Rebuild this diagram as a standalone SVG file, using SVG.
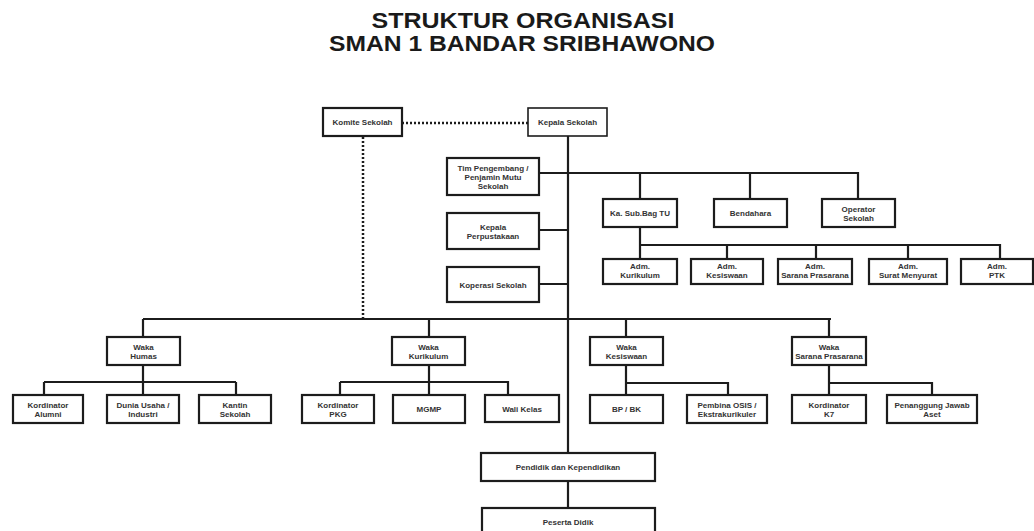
<svg xmlns="http://www.w3.org/2000/svg" width="1034" height="531" viewBox="0 0 1034 531">
<style>
.b{fill:#fff;stroke:#1c1c1c;stroke-width:2.2}
.t{font-family:"Liberation Sans",Arial,sans-serif;font-size:8px;font-weight:bold;fill:#333;text-anchor:middle}
.h{font-family:"Liberation Sans",Arial,sans-serif;font-size:21.5px;font-weight:bold;fill:#1a1a1a;text-anchor:middle}
.c{fill:none;stroke:#1c1c1c;stroke-width:2.2}
.d{fill:none;stroke:#1c1c1c;stroke-width:2.5;stroke-dasharray:2 2}
</style>
<rect width="1034" height="531" fill="#fff"/>
<text class="h" x="523" y="28" textLength="303" lengthAdjust="spacingAndGlyphs">STRUKTUR ORGANISASI</text>
<text class="h" x="522" y="51" textLength="386" lengthAdjust="spacingAndGlyphs">SMAN 1 BANDAR SRIBHAWONO</text>
<g id="connectors">
<path class="d" d="M402 123H528M363 137V318"/>
<path class="c" d="M568 136V453M568 481V508"/>
<path class="c" d="M539 173H858V199M640 173V199M750 173V199"/>
<path class="c" d="M539 230H568M539 284H568"/>
<path class="c" d="M640 227V259M640 245H1000V259M727 245V259M816 245V259M908 245V259"/>
<path class="c" d="M143 319H831M143 319V337M429 319V337M626 319V337M829 319V337"/>
<path class="c" d="M143 365V395M44 382H236M44 382V395M236 382V395"/>
<path class="c" d="M429 365V395M340 382H508V395M340 382V395"/>
<path class="c" d="M626 365V395M626 383H728V395"/>
<path class="c" d="M829 365V395M829 383H932V395"/>
</g>
<g id="komite"><rect class="b" x="323" y="108" width="79" height="28"/><text class="t" x="362.5" y="125">Komite Sekolah</text></g>
<g id="kepala"><rect class="b" x="528" y="108" width="79" height="28" style="stroke-width:1.6"/><text class="t" x="567.5" y="125">Kepala Sekolah</text></g>
<g id="tim"><rect class="b" x="447" y="158" width="92" height="37"/><text class="t" x="493" y="171">Tim Pengembang /</text><text class="t" x="493" y="180">Penjamin Mutu</text><text class="t" x="493" y="189">Sekolah</text></g>
<g id="perpus"><rect class="b" x="447" y="213" width="92" height="36"/><text class="t" x="493" y="229.5">Kepala</text><text class="t" x="493" y="238.5">Perpustakaan</text></g>
<g id="koperasi"><rect class="b" x="447" y="267" width="92" height="35"/><text class="t" x="493" y="287.5">Koperasi Sekolah</text></g>
<g id="tu"><rect class="b" x="603" y="199" width="74" height="28"/><text class="t" x="640" y="216">Ka. Sub.Bag TU</text></g>
<g id="bendahara"><rect class="b" x="714" y="199" width="73" height="28"/><text class="t" x="750.5" y="216">Bendahara</text></g>
<g id="operator"><rect class="b" x="822" y="199" width="73" height="28"/><text class="t" x="858.5" y="211.5">Operator</text><text class="t" x="858.5" y="220.5">Sekolah</text></g>
<g id="adm-kurikulum"><rect class="b" x="603" y="259" width="74" height="25"/><text class="t" x="640" y="269">Adm.</text><text class="t" x="640" y="278">Kurikulum</text></g>
<g id="adm-kesiswaan"><rect class="b" x="691" y="259" width="72" height="25"/><text class="t" x="727" y="269">Adm.</text><text class="t" x="727" y="278">Kesiswaan</text></g>
<g id="adm-sarana"><rect class="b" x="778" y="259" width="74" height="25"/><text class="t" x="815" y="269">Adm.</text><text class="t" x="815" y="278">Sarana Prasarana</text></g>
<g id="adm-surat"><rect class="b" x="869" y="259" width="78" height="25"/><text class="t" x="908" y="269">Adm.</text><text class="t" x="908" y="278">Surat Menyurat</text></g>
<g id="adm-ptk"><rect class="b" x="961" y="259" width="72" height="25"/><text class="t" x="997" y="269">Adm.</text><text class="t" x="997" y="278">PTK</text></g>
<g id="waka-humas"><rect class="b" x="107" y="337" width="73" height="28"/><text class="t" x="143.5" y="349.5">Waka</text><text class="t" x="143.5" y="358.5">Humas</text></g>
<g id="waka-kurikulum"><rect class="b" x="392" y="337" width="73" height="28"/><text class="t" x="428.5" y="349.5">Waka</text><text class="t" x="428.5" y="358.5">Kurikulum</text></g>
<g id="waka-kesiswaan"><rect class="b" x="590" y="337" width="73" height="28"/><text class="t" x="626.5" y="349.5">Waka</text><text class="t" x="626.5" y="358.5">Kesiswaan</text></g>
<g id="waka-sarana"><rect class="b" x="792" y="337" width="74" height="28"/><text class="t" x="829" y="349.5">Waka</text><text class="t" x="829" y="358.5">Sarana Prasarana</text></g>
<g id="alumni"><rect class="b" x="13" y="395" width="70" height="28"/><text class="t" x="48" y="407.5">Kordinator</text><text class="t" x="48" y="416.5">Alumni</text></g>
<g id="dunia-usaha"><rect class="b" x="107" y="395" width="72" height="28"/><text class="t" x="143" y="407.5">Dunia Usaha /</text><text class="t" x="143" y="416.5">Industri</text></g>
<g id="kantin"><rect class="b" x="199" y="395" width="72" height="28"/><text class="t" x="235" y="407.5">Kantin</text><text class="t" x="235" y="416.5">Sekolah</text></g>
<g id="pkg"><rect class="b" x="302" y="395" width="72" height="28"/><text class="t" x="338" y="407.5">Kordinator</text><text class="t" x="338" y="416.5">PKG</text></g>
<g id="mgmp"><rect class="b" x="393" y="395" width="72" height="28"/><text class="t" x="429" y="412">MGMP</text></g>
<g id="wali-kelas"><rect class="b" x="485" y="395" width="74" height="27"/><text class="t" x="522" y="411.5">Wali Kelas</text></g>
<g id="bpbk"><rect class="b" x="590" y="395" width="73" height="28"/><text class="t" x="626.5" y="412">BP / BK</text></g>
<g id="pembina-osis"><rect class="b" x="687" y="395" width="80" height="28"/><text class="t" x="727" y="407.5">Pembina OSIS /</text><text class="t" x="727" y="416.5">Ekstrakurikuler</text></g>
<g id="k7"><rect class="b" x="792" y="395" width="74" height="28"/><text class="t" x="829" y="407.5">Kordinator</text><text class="t" x="829" y="416.5">K7</text></g>
<g id="aset"><rect class="b" x="887" y="395" width="90" height="28"/><text class="t" x="932" y="407.5">Penanggung Jawab</text><text class="t" x="932" y="416.5">Aset</text></g>
<g id="pendidik"><rect class="b" x="481" y="453" width="174" height="28"/><text class="t" x="568" y="470">Pendidik dan Kependidikan</text></g>
<g id="peserta"><rect class="b" x="482" y="508" width="173" height="30"/><text class="t" x="568" y="525">Peserta Didik</text></g>
</svg>
